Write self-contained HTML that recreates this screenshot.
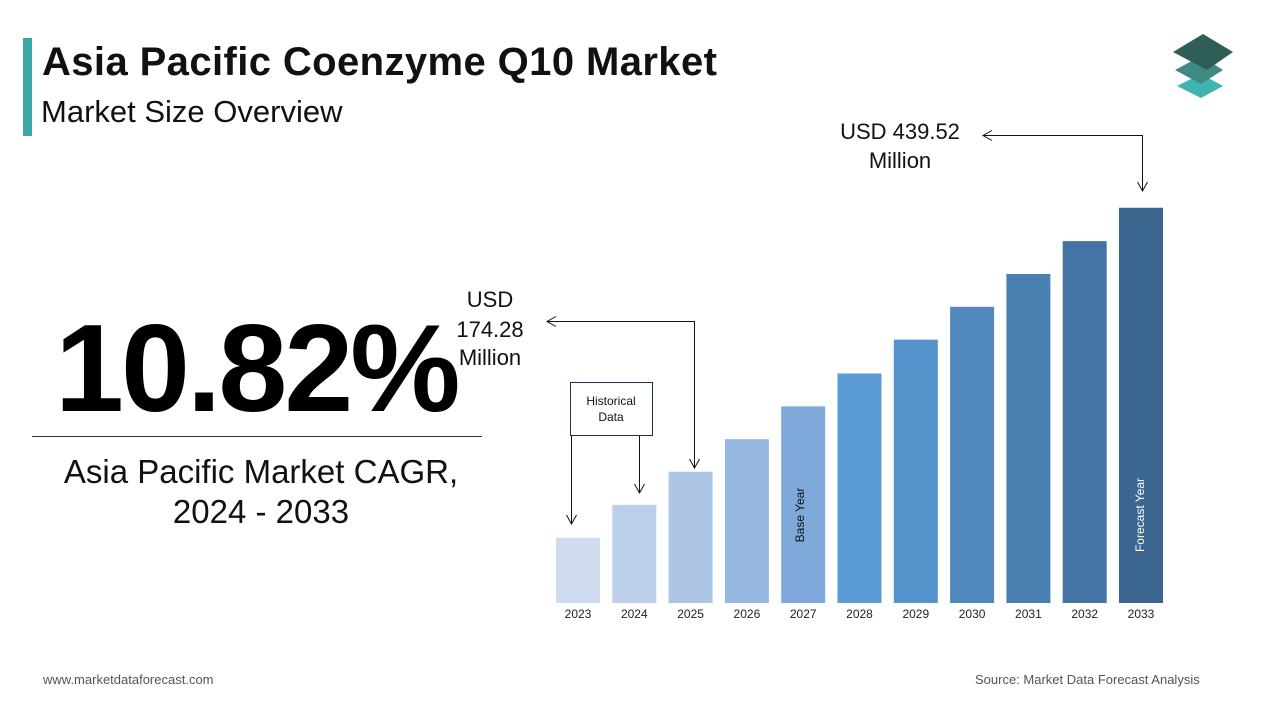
<!DOCTYPE html>
<html><head><meta charset="utf-8"><style>
body{margin:0;width:1280px;height:720px;background:#fff;position:relative;overflow:hidden;font-family:"Liberation Sans",sans-serif;}
.abs{position:absolute;}
</style></head><body>
<div class="abs" style="left:23px;top:38px;width:9px;height:98px;background:#3aa6a6"></div>
<div class="abs" style="left:42px;top:40px;font-size:40px;font-weight:bold;color:#111;letter-spacing:0.4px">Asia Pacific Coenzyme Q10 Market</div>
<div class="abs" style="left:41px;top:94px;font-size:31px;color:#111">Market Size Overview</div>
<svg class="abs" style="left:1165px;top:30px" width="75" height="72">
<polygon points="36,44 58,56 36,68 12,56" fill="#3fb3b0"/>
<polygon points="36,26 58,40 36,54 10,40" fill="#3f8a84"/>
<polygon points="38,4 68,22 42,40 8,22" fill="#2f5d57"/>
</svg>
<div class="abs" style="left:55px;top:298px;font-size:124px;font-weight:bold;color:#000;letter-spacing:-3px">10.82%</div>
<div class="abs" style="left:32px;top:436px;width:450px;height:1px;background:#333"></div>
<div class="abs" style="left:32px;top:452px;width:458px;text-align:center;font-size:33px;line-height:40px;color:#111">Asia Pacific Market CAGR,<br>2024 - 2033</div>
<div class="abs" style="left:43px;top:672px;font-size:13px;color:#555">www.marketdataforecast.com</div>
<div class="abs" style="left:975px;top:672px;font-size:13px;color:#555">Source: Market Data Forecast Analysis</div>
<svg class="abs" id="chart" style="left:0;top:0" width="1280" height="720"></svg>
<script>
const years=["2023","2024","2025","2026","2027","2028","2029","2030","2031","2032","2033"];
const values=[108,141,174.28,207,240,273,307,340,373,406,439.52];
const colors=["#cfdcef","#bdd0ea","#aec6e6","#96b8e0","#7ea9da","#5b9bd5","#5591cb","#5088be","#4a7fb2","#4474a3","#3b6690"];
const NS="http://www.w3.org/2000/svg";
const svg=document.getElementById('chart');
const x0=556,step=56.3,bw=44,base=603;
function xs(i){return x0+i*step;}
function ys(v){return base-(v-42.4)*0.9953;}
function mk(t,a){const e=document.createElementNS(NS,t);for(const k in a)e.setAttribute(k,a[k]);svg.appendChild(e);return e;}
years.forEach((y,i)=>{
 const r=mk('rect',{x:xs(i),y:ys(values[i]),width:bw,height:base-ys(values[i]),fill:colors[i]});
 
 
 const t=mk('text',{x:xs(i)+bw/2,y:618,'text-anchor':'middle','font-size':12,fill:'#222','font-family':'Liberation Sans, sans-serif'});
 t.textContent=y;
 
 
});
const bt=mk('text',{x:804,y:515,'text-anchor':'middle','font-size':12,fill:'#111',transform:'rotate(-90 804 515)','font-family':'Liberation Sans, sans-serif'});
bt.textContent='Base Year';
const ft=mk('text',{x:1144,y:515,'text-anchor':'middle','font-size':12,fill:'#fff',transform:'rotate(-90 1144 515)','font-family':'Liberation Sans, sans-serif'});
ft.textContent='Forecast Year';
const ln={stroke:'#111','stroke-width':1,fill:'none'};
function arrowDown(x,y){mk('polyline',Object.assign({points:`${x-5},${y-9} ${x},${y} ${x+5},${y-9}`},ln));}
function arrowLeft(x,y){mk('polyline',Object.assign({points:`${x+9},${y-5} ${x},${y} ${x+9},${y+5}`},ln));}
const r=mk('rect',{x:570.5,y:382.5,width:82,height:53,fill:'#fff',stroke:'#1f2f4f','stroke-width':1});

[['Historical',405],['Data',421]].forEach(([s,y])=>{const t=mk('text',{x:611,y:y,'text-anchor':'middle','font-size':12,fill:'#111','font-family':'Liberation Sans, sans-serif'});t.textContent=s;});
mk('line',Object.assign({x1:571.5,y1:436,x2:571.5,y2:524},ln));arrowDown(571.5,524);
mk('line',Object.assign({x1:639.5,y1:436,x2:639.5,y2:493},ln));arrowDown(639.5,493);
mk('polyline',Object.assign({points:`547,321.5 694.5,321.5 694.5,468`},ln));arrowDown(694.5,468);arrowLeft(547,321.5);
mk('polyline',Object.assign({points:`983,135.5 1142.5,135.5 1142.5,191`},ln));arrowDown(1142.5,191);arrowLeft(983,135.5);
[['USD',490,307],['174.28',490,337],['Million',490,365]].forEach(([s,x,y])=>{const t=mk('text',{x:x,y:y,'text-anchor':'middle','font-size':22,fill:'#111','font-family':'Liberation Sans, sans-serif'});t.textContent=s;});
[['USD 439.52',900,139],['Million',900,168]].forEach(([s,x,y])=>{const t=mk('text',{x:x,y:y,'text-anchor':'middle','font-size':22,fill:'#111','font-family':'Liberation Sans, sans-serif'});t.textContent=s;});
</script>
</body></html>
